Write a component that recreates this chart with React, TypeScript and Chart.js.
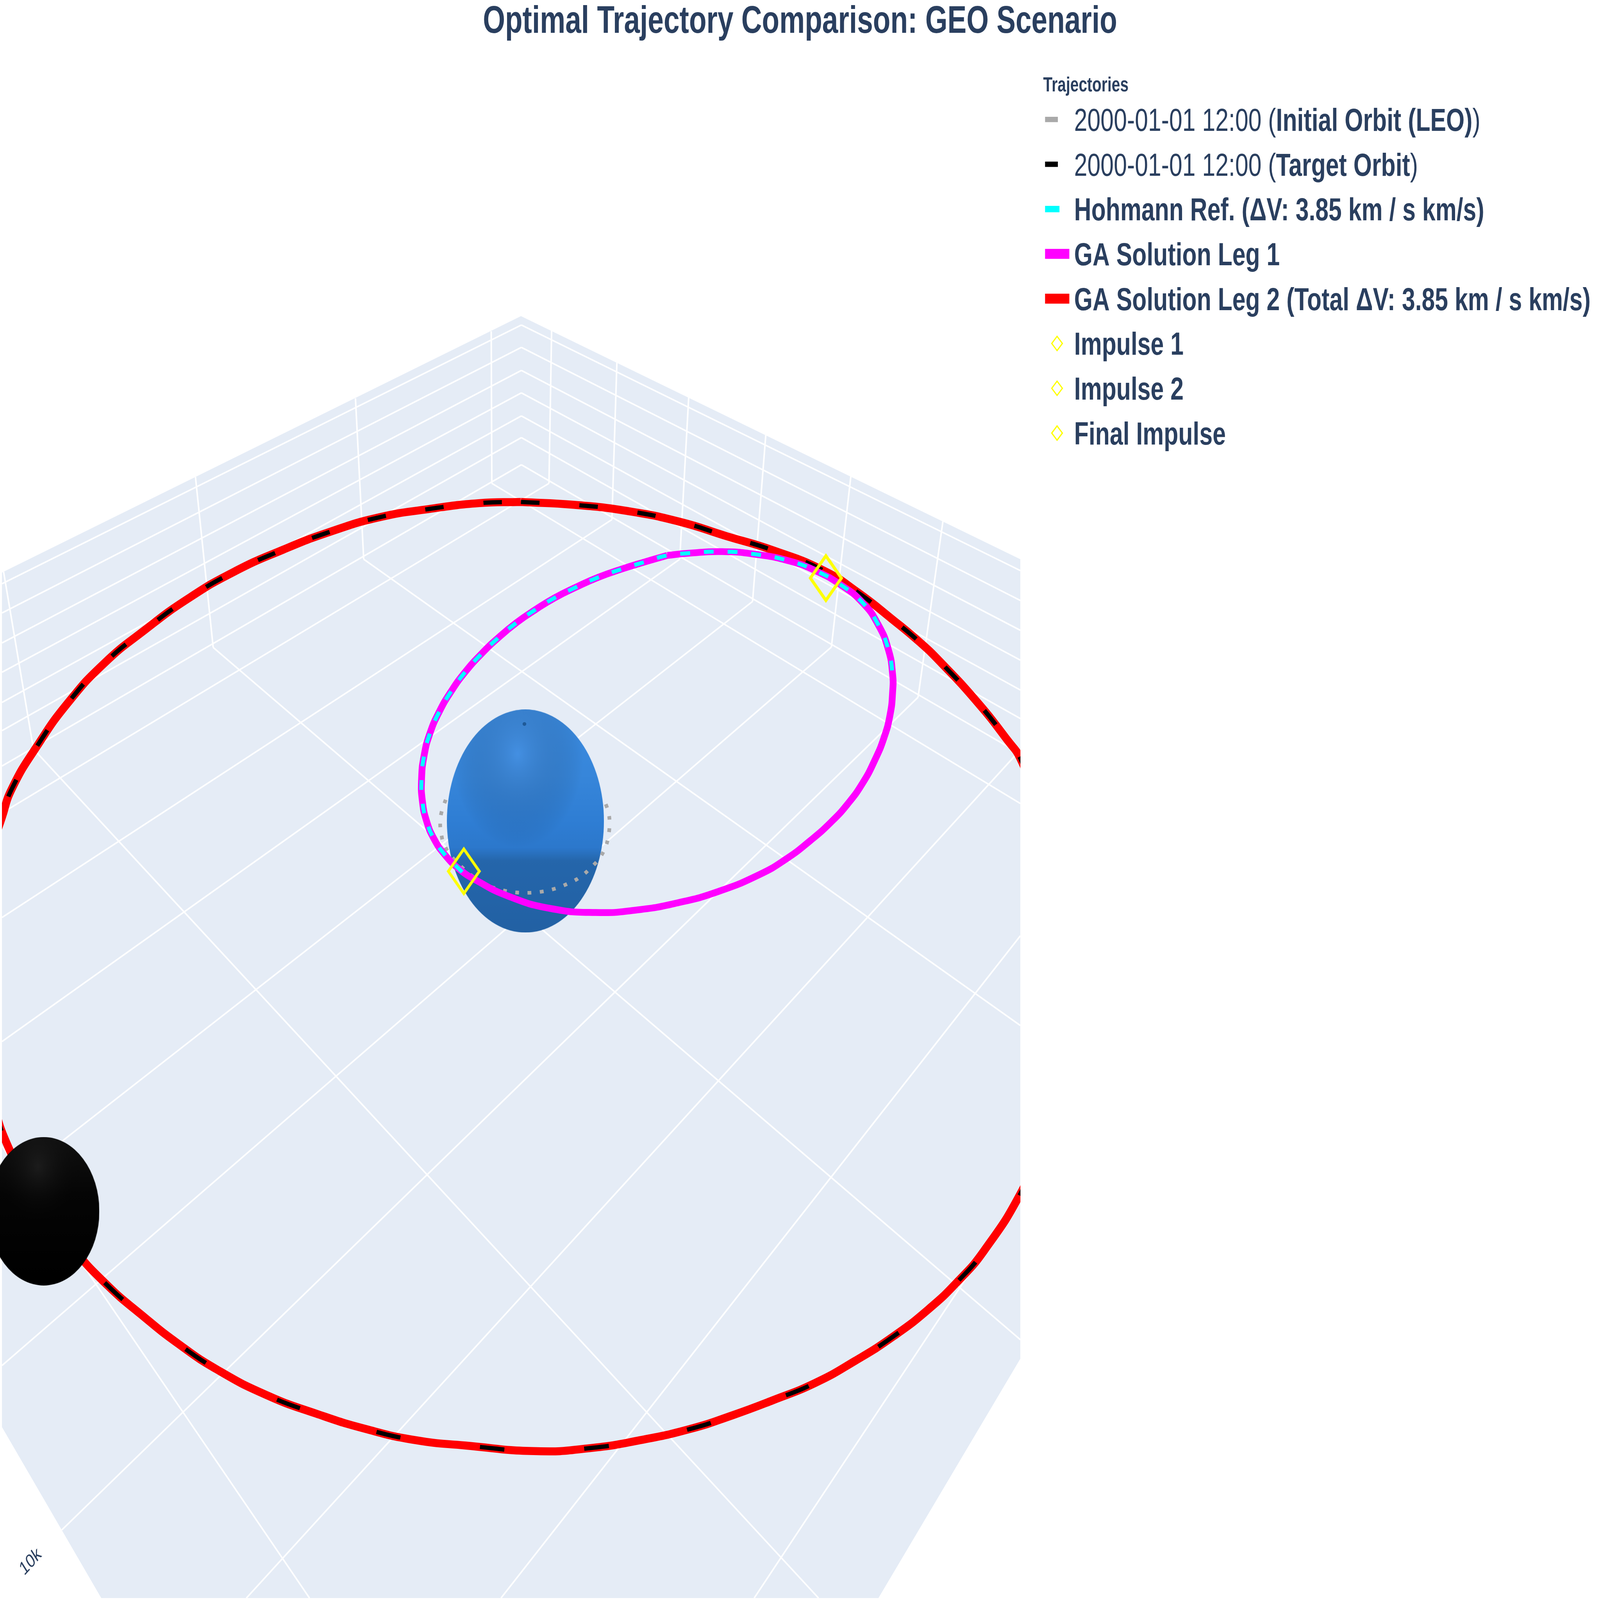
import { useEffect, useRef } from 'react'
import { Chart, registerables } from 'chart.js'

Chart.register(...registerables)

// Everything in the scene in a 1568 x 1176 view
// (x to the right, y down). The 3D box is cut at x = 1000, the legend sits right of it.
const VIEW_W = 1568
const VIEW_H = 1176
const SCENE_W = 1000
const REF_W = 6000
const REF_H = 4500
const PX = REF_W / VIEW_W

type Pt = [number, number]

// target orbit (GEO); GA leg 2 runs on the same path
const geoOrbit: Pt[] = [
  [509.6, 368.4], [561.5, 370.5], [613.5, 375], [665.5, 383], [711, 393.5], [757, 404],
  [807, 419], [840.3, 435], [873.6, 454.5], [901.6, 472], [922.3, 487], [958, 516.2],
  [987.3, 543.9], [1000.3, 558], [1022, 600], [1040, 650], [1050, 715], [1042, 790], [1022, 840],
  [1000.3, 877.7], [964.5, 919.9], [938.5, 942.7], [909.3, 963.5], [875.1, 983.3],
  [837.8, 1001.2], [798.8, 1017.4], [756.5, 1030.4], [717.5, 1041.3], [675.3, 1051.5],
  [626.5, 1059.7], [577.8, 1065.5], [525.8, 1067.8], [455, 1063.6], [406.3, 1059.7],
  [357.5, 1051.5], [308.8, 1040.2], [260, 1026.5], [211.3, 1007.7], [172.3, 988.2],
  [136.5, 967], [104, 945.9], [69.9, 918.3], [38, 885], [8.1, 846.8], [-10, 805],
  [-20, 760], [-24, 712], [-20, 665], [-10, 625], [0, 600.7], [9.8, 579.6], [34.1, 548.7],
  [65, 516.2], [100.8, 487], [139.8, 463], [182, 440], [227.5, 420], [276.3, 403.5],
  [321.8, 390.5], [370.5, 379.7], [419.3, 373.6], [468, 369.3], [509.6, 368.4],
]

// GA leg 1 (transfer ellipse)
const transferOrbit: Pt[] = [
  [653.3, 407.8], [673.6, 406.2], [707, 405], [740.3, 407], [773.6, 412], [798.6, 419],
  [823.6, 429.5], [845.3, 442.8], [860.3, 458.7], [870.3, 477], [874.5, 495.3], [874.5, 508.7],
  [872, 525.3], [866.1, 542], [857, 558.7], [845.3, 575.3], [830.3, 591], [813.8, 604.5],
  [793.6, 618], [770.3, 631.3], [743.6, 643], [703.1, 655.5], [665.1, 663.5], [623.9, 669],
  [582.8, 670.9], [538.4, 667.9], [497.3, 658.9], [465.3, 647], [448.7, 638.7], [435.3, 628.7],
  [424.5, 617], [417, 603.7], [412.8, 588.7], [412, 572.8], [414.5, 555.3], [420.3, 538.7],
  [429.5, 522.8], [441.2, 507.8], [454.5, 494], [470.3, 480.7], [487, 468.7], [505.3, 457.3],
  [523.7, 447.8], [542.8, 439], [563.7, 431.2], [585.3, 424], [608.7, 417.8], [630.3, 412.8],
  [653.3, 407.8],
]

// Hohmann reference arc
const hohmannArc: Pt[] = [
  [452, 641], [448.7, 638.7], [435.3, 628.7], [424.5, 617], [417, 603.7], [412.8, 588.7],
  [412, 572.8], [414.5, 555.3], [420.3, 538.7], [429.5, 522.8], [441.2, 507.8], [454.5, 494],
  [470.3, 480.7], [487, 468.7], [505.3, 457.3], [523.7, 447.8], [542.8, 439], [563.7, 431.2],
  [585.3, 424], [608.7, 417.8], [630.3, 412.8], [653.3, 407.8], [673.6, 406.2], [707, 405],
  [740.3, 407], [773.6, 412], [798.6, 419], [823.6, 429.5], [845.3, 442.8], [860.3, 458.7],
  [870.3, 477], [874.5, 495.3], [874.5, 502],
]

// initial orbit (LEO), the part in front of the Earth
const leoOrbit: Pt[] = [
  [435.7, 587.8], [432.5, 594.5], [430.7, 600.3], [430.3, 607], [431.3, 612.8], [433.3, 619.5],
  [438, 626], [444.8, 632.5], [458.1, 641.8], [470.1, 648.5], [479.9, 651.9], [491, 654.4],
  [502, 655.9], [513.1, 656.4], [524.2, 656.1], [534.6, 654.9], [544.8, 652.9], [554.9, 649.9],
  [564.4, 646.4], [572.6, 641.9], [579.6, 636.9], [585.9, 631.9], [590.7, 625.9], [593.9, 619.9],
  [595.7, 613.7], [596.6, 607], [596.3, 600.4], [594.5, 594.4], [591.4, 588.4],
]

const impulse1: Pt[] = [[453.5, 640.5]]
const impulse2: Pt[] = [[809, 424.5]]
const finalImpulse: Pt[] = [[809, 424.5]]
const earth: Pt[] = [[514, 603.5]]
const earthPole: Pt[] = [[513, 532]]
const blackBody: Pt[] = [[41, 891]]

// 3D box: back walls + floor
const boxOutline: Pt[] = [
  [0, 420.4], [509.6, 231.5], [1000, 410.6], [1000, 999.6], [860.6, 1176], [97.5, 1176], [0, 1050], [0, 420.4],
]
const wallLines: [Pt, Pt][] = [
  [[0, 428.7], [510, 238]], [[0, 450.2], [510, 254.5]], [[0, 472.3], [510, 271.5]],
  [[0, 493.9], [510, 288]], [[0, 516.1], [510, 305]], [[0, 536.9], [510, 321]],
  [[510, 238], [1000, 419]], [[510, 254.5], [1000, 441]], [[510, 271.5], [1000, 463]],
  [[510, 288], [1000, 485]], [[510, 305], [1000, 507]], [[510, 321], [1000, 528]],
  [[480.4, 242.6], [481, 354.7]], [[347.1, 292], [355.2, 410.6]], [[190, 350], [207.4, 475.6]],
  [[1.6, 419.8], [30.9, 550.4]], [[539.7, 242.2], [537.1, 354.7]], [[603.8, 265.7], [598.9, 381.4]],
  [[674.3, 291.4], [665.5, 410.6]], [[750, 319.1], [737, 441.7]], [[833.5, 349.6], [814.4, 475.3]],
  [[923.9, 382.7], [899.5, 512.3]],
  [[0, 563], [510, 341]], [[510, 341], [1000, 554]],
]
const floorLines: [Pt, Pt][] = [
  [[481, 354.7], [1000, 590.6]], [[355.2, 410.6], [1000, 754.2]], [[207.4, 475.6], [1000, 985.7]],
  [[30.9, 550.4], [801.8, 1176]], [[0, 843], [302, 1176]],
  [[537.1, 354.7], [0, 597.6]], [[598.9, 381.4], [0, 674.6]], [[665.5, 410.6], [0, 766]],
  [[737, 441.7], [0, 874]], [[814.4, 475.3], [0, 1004.7]], [[899.5, 512.3], [58.8, 1125.8]],
  [[1000, 551], [240, 1176]], [[1000, 688], [490, 1176]], [[1000, 880], [738.6, 1176]],
]

const TITLE = 'Optimal Trajectory Comparison: GEO Scenario'
const LEGEND_TITLE = 'Trajectories'
const AXIS_TICK = '10k'
const INK = '#2a3f5f'
const FONT = '"Liberation Sans", Arial, Helvetica, sans-serif'

type Run = [string, boolean]
const legendEntries: { runs: Run[]; color: string; mark: 'line' | 'diamond'; len?: number; thick?: number }[] = [
  { runs: [['2000-01-01 12:00 (', false], ['Initial Orbit (LEO)', true], [')', false]], color: '#a9a9a9', mark: 'line', len: 48, thick: 15 },
  { runs: [['2000-01-01 12:00 (', false], ['Target Orbit', true], [')', false]], color: '#000000', mark: 'line', len: 48, thick: 15 },
  { runs: [['Hohmann Ref. (ΔV: 3.85 km / s km/s)', true]], color: '#00ffff', mark: 'line', len: 54, thick: 18 },
  { runs: [['GA Solution Leg 1', true]], color: '#ff00ff', mark: 'line', len: 91, thick: 28 },
  { runs: [['GA Solution Leg 2 (Total ΔV: 3.85 km / s km/s)', true]], color: '#ff0000', mark: 'line', len: 91, thick: 28 },
  { runs: [['Impulse 1', true]], color: '#ffff00', mark: 'diamond' },
  { runs: [['Impulse 2', true]], color: '#ffff00', mark: 'diamond' },
  { runs: [['Final Impulse', true]], color: '#ffff00', mark: 'diamond' },
]

const toXY = (pts: Pt[]) => pts.map(([x, y]) => ({ x, y }))
const segsToXY = (segs: [Pt, Pt][]) =>
  segs.flatMap(([a, b]) => [{ x: a[0], y: a[1] }, { x: b[0], y: b[1] }, { x: null, y: null }])

function sphereSprite(w: number, h: number, stops: [number, string][], glow: string) {
  const c = document.createElement('canvas')
  c.width = Math.max(1, Math.round(w))
  c.height = Math.max(1, Math.round(h))
  const g = c.getContext('2d')!
  g.beginPath()
  g.ellipse(c.width / 2, c.height / 2, c.width / 2, c.height / 2, 0, 0, Math.PI * 2)
  g.clip()
  const lin = g.createLinearGradient(0, 0, 0, c.height)
  stops.forEach(([o, col]) => lin.addColorStop(o, col))
  g.fillStyle = lin
  g.fillRect(0, 0, c.width, c.height)
  g.save()
  g.scale(1, c.height / c.width)
  const cy = c.width * 0.2
  const rad = g.createRadialGradient(c.width * 0.45, cy, 0, c.width * 0.45, cy, c.width * 0.42)
  rad.addColorStop(0, glow)
  rad.addColorStop(1, 'rgba(0,0,0,0)')
  g.fillStyle = rad
  g.fillRect(0, 0, c.width, c.width)
  g.restore()
  return c
}

function diamondSprite(hw: number, hh: number, lw: number, color: string) {
  const c = document.createElement('canvas')
  c.width = Math.ceil(2 * hw + 2 * lw)
  c.height = Math.ceil(2 * hh + 2 * lw)
  const g = c.getContext('2d')!
  const cx = c.width / 2
  const cy = c.height / 2
  g.strokeStyle = color
  g.lineWidth = lw
  g.beginPath()
  g.moveTo(cx - hw, cy)
  g.lineTo(cx, cy - hh)
  g.lineTo(cx + hw, cy)
  g.lineTo(cx, cy + hh)
  g.closePath()
  g.stroke()
  return c
}

// title, legend and the lone axis tick, laid out in 6000 x 4500 reference pixels
const overlay = {
  id: 'overlay',
  afterDraw(chart: Chart) {
    const { ctx } = chart
    ctx.save()
    ctx.scale(chart.width / REF_W, chart.height / REF_H)
    ctx.fillStyle = INK
    ctx.textBaseline = 'alphabetic'

    ctx.textAlign = 'center'
    ctx.font = `bold 107px ${FONT}`
    ctx.fillText(TITLE, REF_W / 2, 92)

    ctx.textAlign = 'left'
    ctx.font = `bold 57px ${FONT}`
    ctx.fillText(LEGEND_TITLE, 3912, 257)

    legendEntries.forEach((e, i) => {
      const y = 336 + i * 126
      if (e.mark === 'line') {
        ctx.fillStyle = e.color
        ctx.fillRect(3919, y - (e.thick || 0) / 2, e.len || 0, e.thick || 0)
      } else {
        ctx.strokeStyle = e.color
        ctx.lineWidth = 4
        ctx.beginPath()
        ctx.moveTo(3964 - 20, y)
        ctx.lineTo(3964, y - 20)
        ctx.lineTo(3964 + 20, y)
        ctx.lineTo(3964, y + 20)
        ctx.closePath()
        ctx.stroke()
      }
      ctx.fillStyle = INK
      let x = 4028
      e.runs.forEach(([text, bold]) => {
        ctx.font = `${bold ? 'bold ' : ''}89px ${FONT}`
        ctx.fillText(text, x, y + 32)
        x += ctx.measureText(text).width
      })
    })

    ctx.translate(115, 4393)
    ctx.rotate((-40 * Math.PI) / 180)
    ctx.textAlign = 'center'
    ctx.textBaseline = 'middle'
    ctx.font = `54px ${FONT}`
    ctx.fillText(AXIS_TICK, 0, 0)
    ctx.restore()
  },
}

export default function App() {
  const ref = useRef<HTMLCanvasElement>(null)

  useEffect(() => {
    const canvas = ref.current
    if (!canvas || !canvas.parentElement) return
    document.body.style.margin = '0'
    document.body.style.overflow = 'hidden'

    const boxW = canvas.parentElement.clientWidth
    const boxH = canvas.parentElement.clientHeight
    // page pixels per reference pixel, across and down (the page may not be 4:3)
    const kx = boxW / REF_W
    const ky = boxH / REF_H
    const k = Math.sqrt(kx * ky)

    const earthSprite = sphereSprite(154 * PX * kx, 164 * PX * ky, [
      [0, '#3b8be0'], [0.3, '#3786da'], [0.5, '#2f7ed4'], [0.62, '#2c78cc'], [0.68, '#2566ab'], [1, '#2261a4'],
    ], 'rgba(90,160,240,0.35)')
    const blackSprite = sphereSprite(109 * PX * kx, 109 * PX * ky, [
      [0, '#111111'], [0.4, '#050505'], [1, '#000000'],
    ], 'rgba(45,45,45,0.5)')
    const diamond = diamondSprite(15.2 * PX * kx, 16.4 * PX * ky, 9 * k, '#ffff00')

    const path = (pts: Pt[], color: string, width: number, order: number, extra: object = {}) => ({
      data: toXY(pts),
      showLine: true,
      borderColor: color,
      borderWidth: width * k,
      pointRadius: 0,
      pointHoverRadius: 0,
      tension: 0.5,
      clip: 0,
      order,
      ...extra,
    })
    const marker = (pts: Pt[], order: number, extra: object) => ({
      data: toXY(pts),
      showLine: false,
      clip: false,
      order,
      ...extra,
    })
    const dash = (a: number, b: number) => [a * k, b * k]

    const chart = new Chart(canvas, {
      type: 'scatter',
      data: {
        datasets: [
          path(boxOutline, 'rgba(0,0,0,0)', 0, 100, { fill: 'shape', backgroundColor: '#e5ecf6', tension: 0 }),
          { ...path([], '#ffffff', 5, 95, { tension: 0, spanGaps: false }), data: segsToXY(wallLines) },
          { ...path([], '#ffffff', 5, 95, { tension: 0, spanGaps: false }), data: segsToXY(floorLines) },
          path(geoOrbit, '#ff0000', 26, 50, { label: 'GA Solution Leg 2' }),
          path(geoOrbit, '#000000', 14, 45, {
            label: 'Target Orbit',
            borderDash: dash(60, 130),
            segment: { borderDash: (c: any) => (c.p0.parsed.y < 718 ? dash(60, 130) : dash(80, 260)) },
          }),
          marker(blackBody, 40, { pointStyle: blackSprite, pointRadius: 1 }),
          marker(earth, 38, { pointStyle: earthSprite, pointRadius: 1 }),
          marker(earthPole, 37, {
            pointStyle: 'circle',
            pointRadius: 6 * k,
            pointBackgroundColor: '#1f5a98',
            pointBorderWidth: 0,
          }),
          path(leoOrbit, '#a9a9a9', 12, 35, { label: 'Initial Orbit (LEO)', borderDash: dash(12, 28), tension: 0.3 }),
          path(transferOrbit, '#ff00ff', 22, 30, { label: 'GA Solution Leg 1' }),
          path(hohmannArc, '#00ffff', 13, 28, { label: 'Hohmann Ref.', borderDash: dash(32, 45) }),
          ...[impulse1, impulse2, finalImpulse].map((pts) => marker(pts, 5, { pointStyle: diamond, pointRadius: 1 })),
        ] as any,
      },
      options: {
        animation: false,
        responsive: true,
        maintainAspectRatio: false,
        events: [],
        elements: { line: { capBezierPoints: false } },
        layout: { padding: { left: 0, top: 0, bottom: 0, right: boxW * (1 - SCENE_W / VIEW_W) } },
        scales: {
          x: { type: 'linear', min: 0, max: SCENE_W, display: false },
          y: { type: 'linear', min: 0, max: VIEW_H, reverse: true, display: false },
        },
        plugins: {
          legend: { display: false },
          tooltip: { enabled: false },
          title: { display: false },
        },
      },
      plugins: [overlay],
    })

    return () => chart.destroy()
  }, [])

  return (
    <div style={{ position: 'relative', width: '100vw', height: '100vh' }}>
      <canvas ref={ref} />
    </div>
  )
}
